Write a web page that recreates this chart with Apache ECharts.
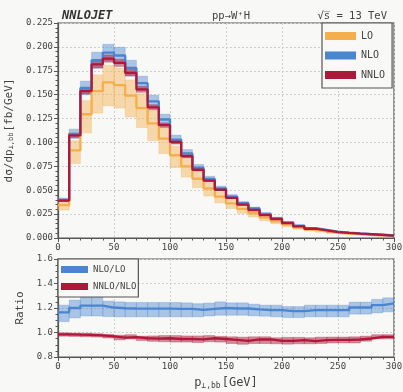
<!DOCTYPE html>
<html>
<head>
<meta charset="utf-8">
<script src="https://cdn.jsdelivr.net/npm/echarts@6/dist/echarts.min.js"></script>
<style>
  html, body { margin: 0; padding: 0; background: #f8f8f6; }
  #chart { width: 403px; height: 392px; }
</style>
</head>
<body>
<div id="chart"></div>
<script>
// bin edges in GeV (30 bins of 10 GeV)
const binEdges = [0, 10, 20, 30, 40, 50, 60, 70, 80, 90, 100, 110, 120, 130, 140, 150,
  160, 170, 180, 190, 200, 210, 220, 230, 240, 250, 260, 270, 280, 290, 300];

// dsigma/dpT [fb/GeV]
const lo = [0.0343, 0.0917, 0.1295, 0.1538, 0.1628, 0.1600, 0.1490, 0.1360, 0.1200, 0.1040,
  0.0866, 0.0750, 0.0620, 0.0518, 0.0432, 0.0363, 0.0304, 0.0259, 0.0213, 0.0175,
  0.0139, 0.0108, 0.0087, 0.0072, 0.0056, 0.0047, 0.0040, 0.0034, 0.0028, 0.0021];
const loHi = [0.0381, 0.1018, 0.1437, 0.1707, 0.1807, 0.1776, 0.1654, 0.1510, 0.1332, 0.1154,
  0.0961, 0.0833, 0.0688, 0.0575, 0.0480, 0.0403, 0.0337, 0.0287, 0.0236, 0.0194,
  0.0154, 0.0120, 0.0097, 0.0080, 0.0062, 0.0052, 0.0044, 0.0038, 0.0031, 0.0023];
const loLo = [0.0292, 0.0779, 0.1101, 0.1307, 0.1384, 0.1360, 0.1267, 0.1156, 0.1020, 0.0884,
  0.0736, 0.0638, 0.0527, 0.0440, 0.0367, 0.0309, 0.0258, 0.0220, 0.0181, 0.0149,
  0.0118, 0.0092, 0.0074, 0.0061, 0.0048, 0.0040, 0.0034, 0.0029, 0.0024, 0.0018];

const nlo = [0.0400, 0.1090, 0.1570, 0.1860, 0.1940, 0.1910, 0.1780, 0.1620, 0.1430, 0.1240,
  0.1030, 0.0885, 0.0736, 0.0618, 0.0520, 0.0434, 0.0365, 0.0309, 0.0253, 0.0208,
  0.0164, 0.0128, 0.0103, 0.0085, 0.0066, 0.0056, 0.0048, 0.0041, 0.0034, 0.0026];
const nloHi = [0.0418, 0.1139, 0.1641, 0.1944, 0.2027, 0.1996, 0.1860, 0.1693, 0.1494, 0.1296,
  0.1076, 0.0925, 0.0769, 0.0646, 0.0543, 0.0454, 0.0381, 0.0323, 0.0264, 0.0217,
  0.0171, 0.0134, 0.0108, 0.0089, 0.0069, 0.0059, 0.0050, 0.0043, 0.0036, 0.0027];
const nloLo = [0.0382, 0.1041, 0.1499, 0.1776, 0.1853, 0.1824, 0.1700, 0.1547, 0.1366, 0.1184,
  0.0984, 0.0845, 0.0703, 0.0590, 0.0497, 0.0414, 0.0349, 0.0295, 0.0242, 0.0199,
  0.0157, 0.0122, 0.0098, 0.0081, 0.0063, 0.0053, 0.0046, 0.0039, 0.0032, 0.0025];

const nnlo = [0.0392, 0.1073, 0.1538, 0.1816, 0.1878, 0.1833, 0.1729, 0.1556, 0.1368, 0.1181,
  0.1005, 0.0857, 0.0714, 0.0600, 0.0505, 0.0420, 0.0349, 0.0293, 0.0240, 0.0198,
  0.0155, 0.0121, 0.0097, 0.0080, 0.0062, 0.0053, 0.0045, 0.0039, 0.0033, 0.0025];
const nnloHi = [0.0400, 0.1095, 0.1569, 0.1852, 0.1916, 0.1870, 0.1764, 0.1587, 0.1395, 0.1205,
  0.1025, 0.0874, 0.0728, 0.0612, 0.0515, 0.0428, 0.0356, 0.0299, 0.0245, 0.0202,
  0.0158, 0.0123, 0.0099, 0.0082, 0.0063, 0.0054, 0.0046, 0.0040, 0.0034, 0.0026];
const nnloLo = [0.0384, 0.1052, 0.1507, 0.1780, 0.1840, 0.1796, 0.1694, 0.1525, 0.1341, 0.1157,
  0.0985, 0.0840, 0.0700, 0.0588, 0.0495, 0.0412, 0.0342, 0.0287, 0.0235, 0.0194,
  0.0152, 0.0119, 0.0095, 0.0078, 0.0061, 0.0052, 0.0044, 0.0038, 0.0032, 0.0024];

// ratio panel
const rNloLo = [1.165, 1.200, 1.220, 1.220, 1.204, 1.198, 1.196, 1.195, 1.195, 1.195,
  1.193, 1.193, 1.185, 1.193, 1.200, 1.196, 1.196, 1.188, 1.182, 1.182,
  1.174, 1.174, 1.182, 1.182, 1.182, 1.182, 1.204, 1.204, 1.223, 1.237];
const rNloLoHi = [1.223, 1.264, 1.290, 1.290, 1.256, 1.250, 1.245, 1.245, 1.245, 1.245,
  1.245, 1.242, 1.235, 1.240, 1.250, 1.242, 1.242, 1.231, 1.223, 1.223,
  1.212, 1.212, 1.223, 1.223, 1.223, 1.223, 1.248, 1.248, 1.270, 1.283];
const rNloLoLo = [1.089, 1.119, 1.135, 1.135, 1.130, 1.128, 1.128, 1.128, 1.128, 1.128,
  1.128, 1.128, 1.128, 1.135, 1.141, 1.141, 1.141, 1.136, 1.133, 1.128,
  1.122, 1.122, 1.128, 1.128, 1.128, 1.128, 1.150, 1.150, 1.160, 1.169];

const rNnloNlo = [0.985, 0.982, 0.980, 0.977, 0.969, 0.958, 0.963, 0.953, 0.950, 0.953,
  0.947, 0.947, 0.944, 0.953, 0.947, 0.940, 0.932, 0.943, 0.943, 0.932,
  0.932, 0.937, 0.929, 0.937, 0.940, 0.940, 0.943, 0.951, 0.965, 0.965];
const rNnloNloHi = [0.998, 0.995, 0.994, 0.990, 0.984, 0.978, 0.982, 0.970, 0.972, 0.975,
  0.975, 0.972, 0.972, 0.975, 0.968, 0.965, 0.962, 0.965, 0.965, 0.957,
  0.960, 0.960, 0.957, 0.962, 0.963, 0.963, 0.965, 0.970, 0.982, 0.982];
const rNnloNloLo = [0.970, 0.968, 0.966, 0.963, 0.955, 0.940, 0.947, 0.935, 0.928, 0.925,
  0.922, 0.922, 0.918, 0.925, 0.922, 0.910, 0.904, 0.910, 0.910, 0.908,
  0.905, 0.908, 0.908, 0.910, 0.915, 0.915, 0.915, 0.929, 0.948, 0.948];

const FONT = "DejaVu Sans Mono";
const TXT = "#444";
const AX = "#555";

const COL = {
  lo: { line: "#f5ae4c", band: "rgba(245,176,78,0.45)" },
  nlo: { line: "#4a85cf", band: "rgba(74,133,207,0.45)" },
  nnlo: { line: "#ae1839", band: "rgba(174,24,57,0.5)" },
};

function stepData(vals) {
  return binEdges.map((e, i) => [e, vals[Math.min(i, vals.length - 1)]]);
}
function bandData(low, high) {
  return low.map((v, i) => [binEdges[i], binEdges[i + 1], v, high[i]]);
}
function bandSeries(name, low, high, color, axisIdx) {
  return {
    name: name,
    type: "custom",
    xAxisIndex: axisIdx,
    yAxisIndex: axisIdx,
    silent: true,
    encode: { x: [0, 1], y: [2, 3] },
    data: bandData(low, high),
    renderItem: (params, api) => {
      const p0 = api.coord([api.value(0), api.value(3)]);
      const p1 = api.coord([api.value(1), api.value(2)]);
      return {
        type: "rect",
        shape: { x: p0[0], y: p0[1], width: p1[0] - p0[0], height: p1[1] - p0[1] },
        style: { fill: color, stroke: color, lineWidth: 0.6 },
      };
    },
  };
}
function lineSeries(name, vals, color, axisIdx) {
  return {
    name: name,
    type: "line",
    step: "end",
    xAxisIndex: axisIdx,
    yAxisIndex: axisIdx,
    symbol: "none",
    silent: true,
    data: stepData(vals),
    lineStyle: { color: color, width: 2.3 },
    itemStyle: { color: color },
  };
}

const gridLine = { show: true, lineStyle: { color: "#d0d0d0", type: [2, 2], width: 1 } };
const labelStyle = { fontFamily: FONT, fontSize: 9, color: TXT };
const tick = { show: true, length: 4, lineStyle: { color: AX } };
const minor = (n) => ({ show: true, splitNumber: n, length: 2.5, lineStyle: { color: AX } });
const axLine = { show: true, lineStyle: { color: AX, width: 1.2 } };

const chart = echarts.init(document.getElementById("chart"));
chart.setOption({
  backgroundColor: "#f8f8f6",
  animation: false,
  textStyle: { fontFamily: FONT },
  title: [
    { text: "NNLOJET", left: 57, top: 5,
      textStyle: { fontFamily: FONT, fontSize: 12, fontWeight: "bold", fontStyle: "italic", color: "#333" } },
    { text: "pp→W\u207AH", left: 226, top: 6, textAlign: "center",
      textStyle: { fontFamily: FONT, fontSize: 10.5, fontWeight: "normal", color: TXT } },
    { text: "√s\u0305 = 13 TeV", right: 11, top: 6,
      textStyle: { fontFamily: FONT, fontSize: 10.5, fontWeight: "normal", color: TXT } },
  ],
  legend: [
    {
      data: ["LO", "NLO", "NNLO"],
      orient: "vertical",
      left: 322, top: 23,
      padding: [8, 7, 8, 3],
      itemGap: 9.5,
      itemWidth: 31, itemHeight: 8,
      icon: "rect",
      borderColor: AX, borderWidth: 1.2,
      backgroundColor: "#f8f8f6",
      textStyle: { fontFamily: FONT, fontSize: 10, color: TXT },
    },
    {
      data: ["NLO/LO", "NNLO/NLO"],
      orient: "vertical",
      left: 58, top: 259,
      padding: [6, 2, 6, 3],
      itemGap: 8,
      itemWidth: 27, itemHeight: 7,
      icon: "rect",
      borderColor: AX, borderWidth: 1.2,
      backgroundColor: "#f8f8f6",
      textStyle: { fontFamily: FONT, fontSize: 9, color: TXT },
    },
  ],
  grid: [
    { left: 58, top: 23, width: 336, height: 215, show: true, borderColor: AX, borderWidth: 1.2,
      backgroundColor: "transparent", containLabel: false, outerBoundsMode: "none" },
    { left: 58, top: 259, width: 336, height: 98, show: true, borderColor: AX, borderWidth: 1.2,
      backgroundColor: "transparent", containLabel: false, outerBoundsMode: "none" },
  ],
  xAxis: [
    {
      gridIndex: 0, type: "value", min: 0, max: 300, interval: 50,
      axisLine: axLine, axisTick: tick, minorTick: minor(5),
      axisLabel: Object.assign({ margin: 5 }, labelStyle),
      splitLine: gridLine,
    },
    {
      gridIndex: 1, type: "value", min: 0, max: 300, interval: 50,
      name: "p{s|⊥,bb}[GeV]",
      nameLocation: "middle", nameGap: 19,
      nameTextStyle: {
        fontFamily: FONT, fontSize: 12, color: TXT,
        rich: { s: { fontFamily: FONT, fontSize: 8, color: TXT, verticalAlign: "bottom", padding: [6, 1, 0, 0] } },
      },
      axisLine: axLine, axisTick: tick, minorTick: minor(5),
      axisLabel: Object.assign({ margin: 5 }, labelStyle),
      splitLine: gridLine,
    },
  ],
  yAxis: [
    {
      gridIndex: 0, type: "value", min: 0, max: 0.225, interval: 0.025,
      name: "dσ/dp{s|⊥,bb}[fb/GeV]",
      nameLocation: "middle", nameGap: 38,
      nameTextStyle: {
        fontFamily: FONT, fontSize: 11, color: TXT,
        rich: { s: { fontFamily: FONT, fontSize: 7, color: TXT, verticalAlign: "bottom", padding: [5, 1, 0, 0] } },
      },
      axisLine: axLine, axisTick: tick, minorTick: minor(5),
      axisLabel: Object.assign({ margin: 5, formatter: (v) => v.toFixed(3) }, labelStyle),
      splitLine: gridLine,
    },
    {
      gridIndex: 1, type: "value", min: 0.8, max: 1.6, interval: 0.2,
      name: "Ratio",
      nameLocation: "middle", nameGap: 23,
      nameTextStyle: { fontFamily: FONT, fontSize: 11, color: TXT },
      axisLine: axLine, axisTick: tick, minorTick: minor(4),
      axisLabel: Object.assign({ margin: 5, formatter: (v) => v.toFixed(1) }, labelStyle),
      splitLine: gridLine,
    },
  ],
  series: [
    bandSeries("LO band", loLo, loHi, COL.lo.band, 0),
    lineSeries("LO", lo, COL.lo.line, 0),
    bandSeries("NLO band", nloLo, nloHi, COL.nlo.band, 0),
    lineSeries("NLO", nlo, COL.nlo.line, 0),
    bandSeries("NNLO band", nnloLo, nnloHi, COL.nnlo.band, 0),
    lineSeries("NNLO", nnlo, COL.nnlo.line, 0),
    bandSeries("NLO/LO band", rNloLoLo, rNloLoHi, COL.nlo.band, 1),
    lineSeries("NLO/LO", rNloLo, COL.nlo.line, 1),
    bandSeries("NNLO/NLO band", rNnloNloLo, rNnloNloHi, COL.nnlo.band, 1),
    lineSeries("NNLO/NLO", rNnloNlo, COL.nnlo.line, 1),
  ],
});
</script>
</body>
</html>
